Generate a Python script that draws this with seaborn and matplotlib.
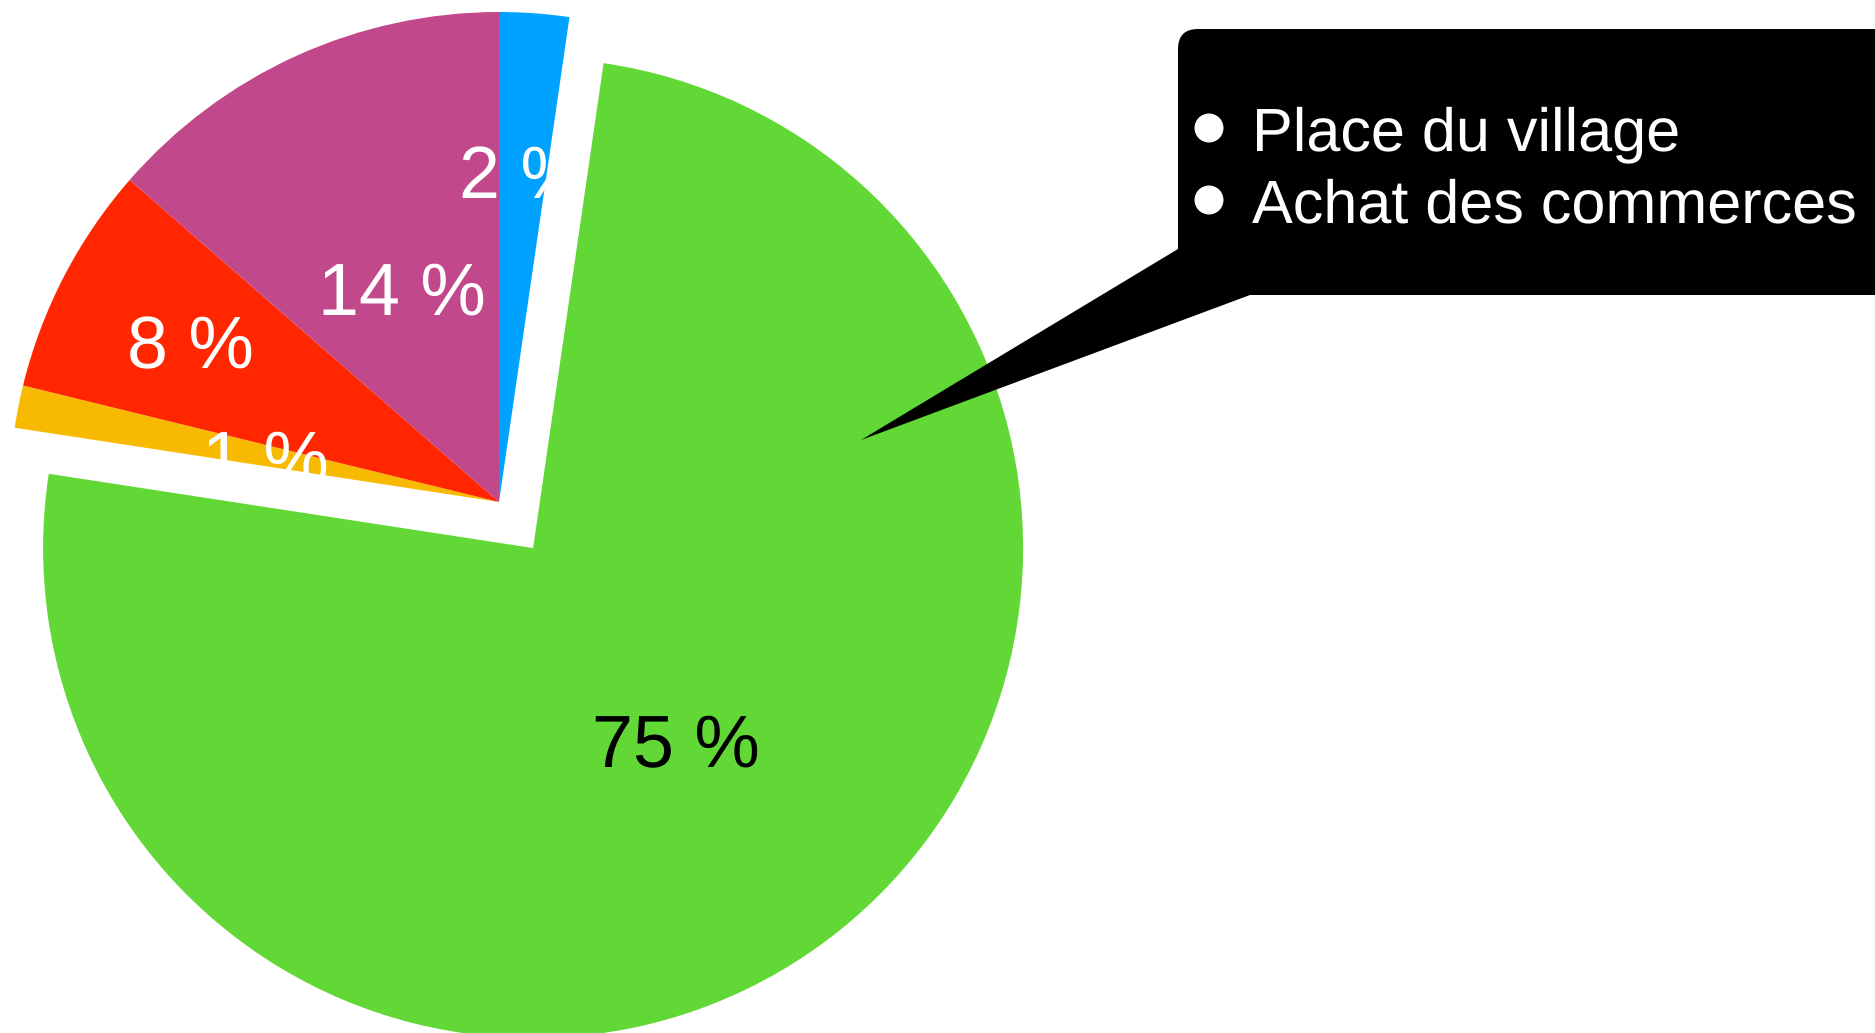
import numpy as np
import matplotlib
matplotlib.use("Agg")
import matplotlib.pyplot as plt
from matplotlib.patches import Wedge, FancyBboxPatch, Polygon, Circle
import seaborn as sns

# slice shares (%), clockwise from 12 o'clock
shares = [2.3, 75.2, 1.4, 7.6, 13.6]
slice_colors = ["#00A2FF", "#61D836", "#F8BA00", "#FF2600", "#C1488A"]
label_colors = ["white", "black", "white", "white", "white"]
label_dist = [0.675, 0.49, 0.485, 0.71, 0.48]
explode_frac = [0, 0.117, 0, 0, 0]

# callout text
legend_items = ["Place du village", "Achat des commerces"]

sns.set_theme(style="white")
plt.rcParams["font.family"] = ["Liberation Sans", "DejaVu Sans"]
plt.rcParams["text.hinting"] = "no_hinting"

W, H = 1875, 1033
fig = plt.figure(figsize=(W / 100, H / 100), dpi=100)
ax = fig.add_axes([0, 0, 1, 1])

R = 490
cx, cy = 499, H - 502

wedges, _ = ax.pie(shares, colors=slice_colors, startangle=90, counterclock=False,
                   explode=[e * R for e in explode_frac], radius=R, center=(cx, cy),
                   wedgeprops=dict(linewidth=0))

ax.set_xlim(0, W)
ax.set_ylim(0, H)
ax.set_aspect("equal")
ax.axis("off")

# labels of the un-exploded slices are clipped to their part of the disc
big = wedges[1]
clip = Wedge((cx, cy), R, big.theta2, big.theta1 + 360)
clip.set_transform(ax.transData)

fs = 53
for w, v, c, d in zip(wedges, shares, label_colors, label_dist):
    mid = np.deg2rad((w.theta1 + w.theta2) / 2)
    x = w.center[0] + d * R * np.cos(mid)
    y = w.center[1] + d * R * np.sin(mid)
    t = ax.text(x, y - 26.5, f"{v:.0f} %", color=c, fontsize=fs,
                ha="center", va="baseline", zorder=3)
    if w is not big:
        t.set_clip_on(True)
        t.set_clip_path(clip)

# callout box with pointer
box = FancyBboxPatch((1178, H - 295), 900, 266,
                     boxstyle="round,pad=0,rounding_size=20",
                     facecolor="black", edgecolor="none", zorder=4)
ax.add_patch(box)
ax.add_patch(Polygon([(1178, H - 249), (1250, H - 295), (861, H - 440)],
                     closed=True, facecolor="black", edgecolor="none", zorder=4))

for i, name in enumerate(legend_items):
    yb = H - 128 - i * 72
    ax.add_patch(Circle((1209, yb), 14.5, facecolor="white", edgecolor="none", zorder=5))
    ax.text(1252, yb - 22, name, color="white", fontsize=44,
            ha="left", va="baseline", zorder=5)

fig.savefig("out.png", dpi=100)
